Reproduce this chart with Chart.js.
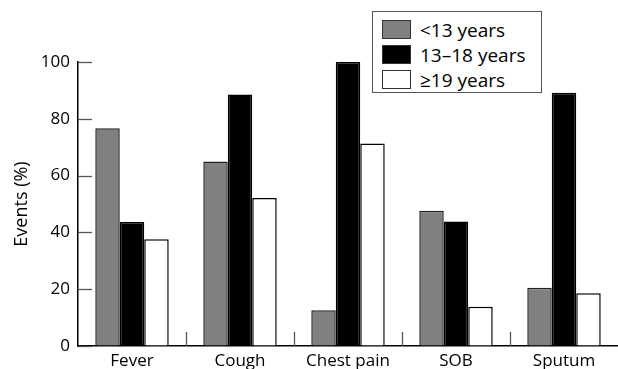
<!DOCTYPE html>
<html>
<head>
<meta charset="utf-8">
<script src="https://cdn.jsdelivr.net/npm/chart.js@4"></script>
<style>
  html, body { margin: 0; padding: 0; background: #fff; }
  #wrap { position: relative; width: 618px; height: 369px; }
  #legenda {
    position: absolute; left: 372px; top: 11px; width: 170px; height: 82px;
    border: 1px solid #555; background: #fff; box-sizing: border-box;
    font-family: "Open Sans", sans-serif; font-size: 19px; color: #000;
    padding: 5px 0 0 9px;
  }
  .item { display: flex; align-items: center; height: 25px; }
  .cor { width: 29px; height: 19px; border: 1px solid #333; margin-right: 9px; box-sizing: border-box; }
</style>
</head>
<body>
<div id="wrap">
  <canvas id="grafico" width="618" height="369"></canvas>
  <div id="legenda"></div>
</div>
<script>
  // Dados
  const categorias = ["Fever", "Cough", "Chest pain", "SOB", "Sputum"];
  const grupos = ["<13 years", "13\u201318 years", "\u226519 years"];
  const menos13 = [76.7, 65.0, 12.6, 47.6, 20.5];
  const de13a18 = [43.7, 88.6, 100, 43.8, 89.2];
  const mais19 = [37.6, 52.1, 71.3, 13.8, 18.6];
  const ticksY = [0, 20, 40, 60, 80, 100];

  const cores = ["#808080", "#000000", "#ffffff"];
  const bordas = ["#222", "#000", "#000"];
  const series = [menos13, de13a18, mais19];

  // Legenda em HTML
  const legenda = document.getElementById("legenda");
  grupos.forEach((g, i) => {
    const item = document.createElement("div");
    item.className = "item";
    item.innerHTML = `<span class="cor" style="background:${cores[i]}"></span><span>${g}</span>`;
    legenda.appendChild(item);
  });

  // tracinhos internos nos eixos
  const marcas = {
    id: "marcas",
    afterDraw(chart) {
      const ctx = chart.ctx;
      const area = chart.chartArea;
      const x = chart.scales.x, y = chart.scales.y;
      ctx.save();
      ctx.strokeStyle = "#555";
      ctx.lineWidth = 1.3;
      ticksY.forEach(v => {
        const py = Math.round(y.getPixelForValue(v)) + 0.5;
        ctx.beginPath();
        ctx.moveTo(area.left, py);
        ctx.lineTo(area.left + 14, py);
        ctx.stroke();
      });
      for (let i = 1; i < categorias.length; i++) {
        const px = Math.round((x.getPixelForValue(i - 1) + x.getPixelForValue(i)) / 2) + 0.5;
        ctx.beginPath();
        ctx.moveTo(px, area.bottom);
        ctx.lineTo(px, area.bottom - 14);
        ctx.stroke();
      }
      ctx.restore();
    }
  };

  const fonte = { family: "'Open Sans', sans-serif", size: 17 };

  new Chart(document.getElementById("grafico"), {
    type: "bar",
    data: {
      labels: categorias,
      datasets: series.map((d, i) => ({
        label: grupos[i],
        data: d,
        backgroundColor: cores[i],
        borderColor: bordas[i],
        borderWidth: 1.5,
        categoryPercentage: 0.68,
        barPercentage: 1
      }))
    },
    options: {
      responsive: false,
      animation: false,
      layout: { padding: { top: 62, right: 0, left: 0, bottom: 0 } },
      plugins: { legend: { display: false }, tooltip: { enabled: false } },
      scales: {
        x: {
          grid: { display: true, drawOnChartArea: false, drawTicks: false },
          border: { display: true, color: "#000", width: 1.5 },
          ticks: { color: "#000", font: fonte, padding: 5, maxRotation: 0 },
          afterFit(s) { s.height = 23; }
        },
        y: {
          min: 0,
          max: 100,
          afterBuildTicks(s) { s.ticks = ticksY.map(v => ({ value: v })); },
          grid: { display: true, drawOnChartArea: false, drawTicks: false },
          border: { display: true, color: "#000", width: 1.5 },
          ticks: { color: "#000", font: fonte, padding: 8 },
          title: { display: true, text: "Events (%)", color: "#000", font: { family: "'Open Sans', sans-serif", size: 18 }, padding: { top: 11, bottom: 0 } },
          afterFit(s) { s.width = 78; }
        }
      }
    },
    plugins: [marcas]
  });
</script>
</body>
</html>
